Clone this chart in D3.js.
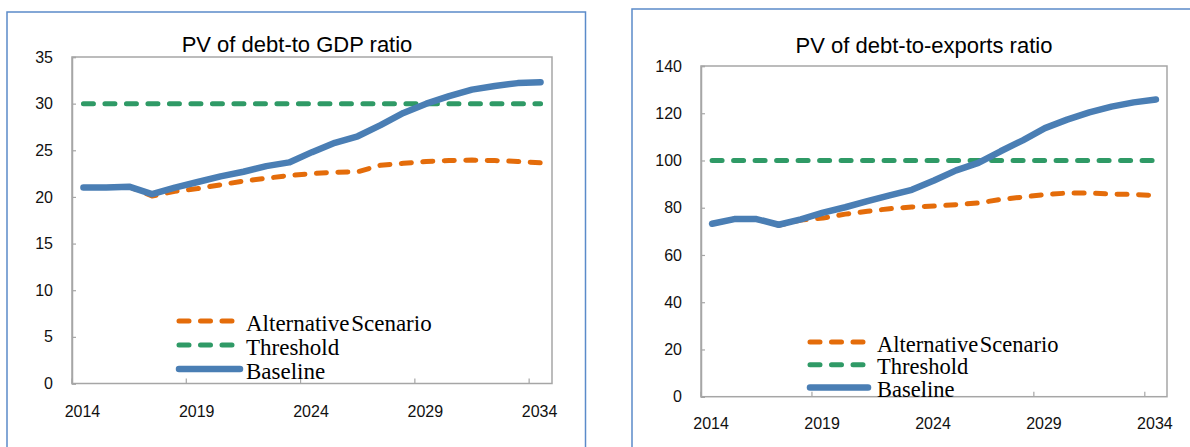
<!DOCTYPE html>
<html>
<head>
<meta charset="utf-8">
<script src="https://cdn.jsdelivr.net/npm/d3@7"></script>
<style>
  html, body { margin: 0; padding: 0; background: #fff; }
  svg { display: block; }
</style>
</head>
<body>
<svg id="chart" width="1190" height="447"></svg>
<script>
// Years on the category axis
const years = [2014, 2015, 2016, 2017, 2018, 2019, 2020, 2021, 2022, 2023, 2024,
               2025, 2026, 2027, 2028, 2029, 2030, 2031, 2032, 2033, 2034];
const yearLabels = ["2014", "2019", "2024", "2029", "2034"];

// PV of debt-to-GDP ratio
const gdpBaseline    = [21.0, 21.0, 21.1, 20.3, 21.0, 21.6, 22.2, 22.7, 23.3, 23.7, 24.8,
                        25.8, 26.5, 27.7, 29.0, 30.0, 30.8, 31.5, 31.9, 32.2, 32.3];
const gdpAlternative = [21.0, 21.0, 21.1, 20.1, 20.6, 20.9, 21.3, 21.7, 22.0, 22.3, 22.5,
                        22.65, 22.7, 23.4, 23.6, 23.8, 23.9, 23.95, 23.9, 23.8, 23.65];
const gdpThreshold   = [30, 30, 30, 30, 30, 30, 30, 30, 30, 30, 30,
                        30, 30, 30, 30, 30, 30, 30, 30, 30, 30];
const gdpTicks = [0, 5, 10, 15, 20, 25, 30, 35];

// PV of debt-to-exports ratio
const expBaseline    = [73.2, 75.2, 75.2, 72.8, 75.1, 77.9, 80.2, 82.8, 85.2, 87.6, 91.5,
                        95.8, 99.0, 103.9, 108.5, 113.7, 117.3, 120.4, 122.8, 124.6, 125.8];
const expAlternative = [73.2, 75.2, 75.2, 72.6, 74.8, 75.6, 77.3, 78.5, 79.6, 80.3, 80.7,
                        81.3, 82.0, 83.5, 84.5, 85.6, 86.2, 86.2, 85.8, 85.6, 85.2];
const expThreshold   = [100, 100, 100, 100, 100, 100, 100, 100, 100, 100, 100,
                        100, 100, 100, 100, 100, 100, 100, 100, 100, 100];
const expTicks = [0, 20, 40, 60, 80, 100, 120, 140];

const seriesNames = ["Alternative Scenario", "Threshold", "Baseline"];

const COLORS = {
  alternative: "#E46C0A",
  threshold: "#2F9A66",
  baseline: "#4A7EB4",
  frame: "#5B8BC9",
  axis: "#A6A6A6"
};

const svg = d3.select("#chart");
svg.append("rect").attr("width", 1190).attr("height", 447).attr("fill", "#fff");

function drawPanel(cfg) {
  const g = svg.append("g");

  // Outer chart frame (runs past the visible window)
  g.append("rect")
    .attr("x", cfg.frame.x).attr("y", cfg.frame.y)
    .attr("width", cfg.frame.w).attr("height", 600)
    .attr("fill", "none")
    .attr("stroke", COLORS.frame)
    .attr("stroke-width", 1.5);

  const x = d3.scaleBand().domain(years).range([cfg.plot.left, cfg.plot.right]).padding(0);
  const y = d3.scaleLinear().domain([0, cfg.yMax]).range([cfg.plot.bottom, cfg.plot.top]);
  const cx = d => x(d) + x.bandwidth() / 2;

  // Plot area box
  g.append("rect")
    .attr("x", cfg.plot.left).attr("y", cfg.plot.top)
    .attr("width", cfg.plot.right - cfg.plot.left)
    .attr("height", cfg.plot.bottom - cfg.plot.top)
    .attr("fill", "none")
    .attr("stroke", COLORS.axis)
    .attr("stroke-width", 1.5);

  // Y axis: inside ticks and labels
  const yAxis = d3.axisLeft(y).tickValues(cfg.ticks).tickSize(-4).tickPadding(19)
    .tickFormat(d3.format("d"));
  const ya = g.append("g").attr("transform", `translate(${cfg.plot.left},0)`).call(yAxis);
  ya.select(".domain").attr("stroke", COLORS.axis).attr("stroke-width", 1.5);
  ya.selectAll(".tick line").attr("stroke", COLORS.axis).attr("stroke-width", 1.2);
  ya.selectAll(".tick text")
    .attr("font-family", "'Liberation Sans', Arial, sans-serif")
    .attr("font-size", 16).attr("fill", "#111");

  // X axis: tick marks on category boundaries every five years
  const tickYears = years.filter(yr => yearLabels.includes(String(yr)));
  g.append("g").selectAll("line").data(tickYears).join("line")
    .attr("x1", d => x(d)).attr("x2", d => x(d))
    .attr("y1", cfg.plot.bottom).attr("y2", cfg.plot.bottom - 5)
    .attr("stroke", COLORS.axis).attr("stroke-width", 1.2);
  g.append("g").selectAll("text").data(tickYears).join("text")
    .attr("x", d => cx(d) - 1)
    .attr("y", cfg.plot.bottom + cfg.xLabelDy)
    .attr("text-anchor", "middle")
    .attr("font-family", "'Liberation Sans', Arial, sans-serif")
    .attr("font-size", 16).attr("fill", "#111")
    .text(d => String(d));

  // Title
  g.append("text")
    .attr("x", cfg.title.x).attr("y", cfg.title.y)
    .attr("text-anchor", "middle")
    .attr("font-family", "'Liberation Sans', Arial, sans-serif")
    .attr("font-size", 22).attr("fill", "#000")
    .text(cfg.title.text);

  const line = d3.line().x((d, i) => cx(years[i])).y(d => y(d));

  const dash = "10 11.5";
  g.append("path").datum(cfg.alternative).attr("d", line)
    .attr("fill", "none").attr("stroke", COLORS.alternative)
    .attr("stroke-width", 5).attr("stroke-dasharray", dash)
    .attr("stroke-linecap", "round").attr("stroke-linejoin", "round");
  g.append("path").datum(cfg.threshold).attr("d", line)
    .attr("fill", "none").attr("stroke", COLORS.threshold)
    .attr("stroke-width", 5).attr("stroke-dasharray", dash)
    .attr("stroke-linecap", "round").attr("stroke-linejoin", "round");
  g.append("path").datum(cfg.baseline).attr("d", line)
    .attr("fill", "none").attr("stroke", COLORS.baseline)
    .attr("stroke-width", 6.5)
    .attr("stroke-linecap", "round").attr("stroke-linejoin", "round");

  // Legend
  const styles = [
    { color: COLORS.alternative, width: 5, dash: dash },
    { color: COLORS.threshold, width: 5, dash: dash },
    { color: COLORS.baseline, width: 6.5, dash: null }
  ];
  const lg = g.append("g");
  seriesNames.forEach((name, i) => {
    const ly = cfg.legend.y0 + i * cfg.legend.dy;
    lg.append("line")
      .attr("x1", cfg.legend.x1).attr("x2", cfg.legend.x2)
      .attr("y1", ly).attr("y2", ly)
      .attr("stroke", styles[i].color)
      .attr("stroke-width", styles[i].width)
      .attr("stroke-dasharray", styles[i].dash)
      .attr("stroke-linecap", "round");
    lg.append("text")
      .attr("x", cfg.legend.textX).attr("y", ly + 9.5)
      .attr("font-family", "'Liberation Serif', 'Times New Roman', serif")
      .attr("font-size", cfg.legend.fontSize).attr("fill", "#000")
      .attr("word-spacing", -4)
      .text(name);
  });
}

drawPanel({
  frame: { x: 7, y: 12, w: 578.5 },
  plot: { left: 72, top: 57, right: 552, bottom: 383.5 },
  yMax: 35, ticks: gdpTicks, xLabelDy: 33,
  title: { text: "PV of debt-to GDP ratio", x: 297, y: 52 },
  baseline: gdpBaseline, alternative: gdpAlternative, threshold: gdpThreshold,
  legend: { x1: 179, x2: 240, textX: 246, y0: 321, dy: 24, fontSize: 23 }
});

drawPanel({
  frame: { x: 632, y: 9, w: 700 },
  plot: { left: 701, top: 66, right: 1167, bottom: 396.7 },
  yMax: 140, ticks: expTicks, xLabelDy: 32,
  title: { text: "PV of debt-to-exports ratio", x: 924, y: 53 },
  baseline: expBaseline, alternative: expAlternative, threshold: expThreshold,
  legend: { x1: 810, x2: 868, textX: 877, y0: 342, dy: 22.7, fontSize: 22.5 }
});
</script>
</body>
</html>
